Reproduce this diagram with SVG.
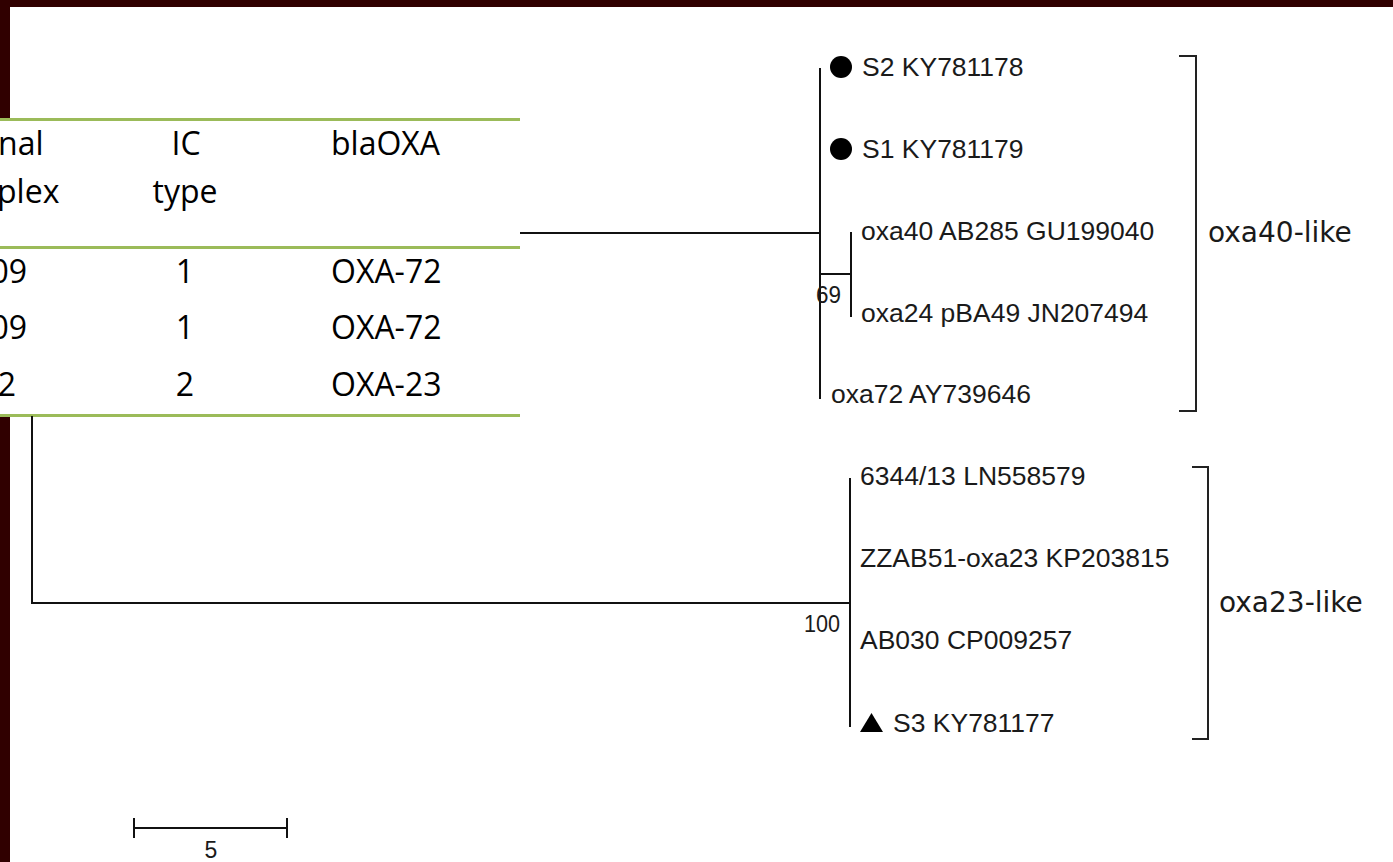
<svg xmlns="http://www.w3.org/2000/svg" width="1393" height="862" viewBox="0 0 1393 862">
  <style>
    .frame { fill: #300000; }
    .rule { stroke: #9bbb59; stroke-width: 3; fill: none; }
    .cell { font-family: "Open Sans", "Liberation Sans", sans-serif; font-size: 32px; fill: #000; }
    .branch { stroke: #111; stroke-width: 2; fill: none; stroke-linecap: square; }
    .bracket { stroke: #222; stroke-width: 2; fill: none; }
    .leaf { font-family: "Liberation Sans", Arial, sans-serif; font-size: 26.5px; fill: #1a1a1a; }
    .support { font-family: "Liberation Sans", Arial, sans-serif; font-size: 23px; fill: #1a1a1a; }
    .clade { font-family: "DejaVu Sans", Verdana, sans-serif; font-size: 28px; fill: #1a1a1a; }
    .mark { fill: #000; }
  </style>

  <!-- page background and dark frame -->
  <rect x="0" y="0" width="1393" height="862" fill="#ffffff"/>
  <rect class="frame" x="0" y="0" width="1393" height="7"/>
  <rect class="frame" x="0" y="0" width="10" height="862"/>

  <!-- summary table laid over the frame -->
  <g id="table">
    <rect x="0" y="118" width="520" height="299" fill="#ffffff"/>
    <line class="rule" x1="0" y1="119.5" x2="520" y2="119.5"/>
    <line class="rule" x1="0" y1="247.5" x2="520" y2="247.5"/>
    <line class="rule" x1="0" y1="415.5" x2="520" y2="415.5"/>
    <text class="cell" x="-2" y="155">nal</text>
    <text class="cell" x="-3" y="203">plex</text>
    <text class="cell" x="186" y="155" text-anchor="middle">IC</text>
    <text class="cell" x="185" y="203" text-anchor="middle">type</text>
    <text class="cell" x="331" y="155">blaOXA</text>
    <text class="cell" x="27" y="283" text-anchor="end">09</text>
    <text class="cell" x="185" y="283" text-anchor="middle">1</text>
    <text class="cell" x="331" y="283">OXA-72</text>
    <text class="cell" x="27" y="339" text-anchor="end">09</text>
    <text class="cell" x="185" y="339" text-anchor="middle">1</text>
    <text class="cell" x="331" y="339">OXA-72</text>
    <text class="cell" x="16" y="396" text-anchor="end">2</text>
    <text class="cell" x="185" y="396" text-anchor="middle">2</text>
    <text class="cell" x="331" y="396">OXA-23</text>
  </g>

  <!-- tree branches -->
  <g id="connectors">
    <!-- root -->
    <polyline class="branch" points="32,417 32,603 850,603"/>
    <line class="branch" x1="521" y1="233" x2="820" y2="233"/>
    <!-- oxa40-like clade -->
    <line class="branch" x1="820" y1="69" x2="820" y2="398"/>
    <line class="branch" x1="820" y1="274" x2="851" y2="274"/>
    <line class="branch" x1="851" y1="233" x2="851" y2="316"/>
    <!-- oxa23-like clade -->
    <line class="branch" x1="850" y1="479" x2="850" y2="726"/>
  </g>

  <!-- bootstrap values -->
  <g id="support">
    <text class="support" x="816" y="303" textLength="25" lengthAdjust="spacingAndGlyphs">69</text>
    <text class="support" x="804" y="632" textLength="36" lengthAdjust="spacingAndGlyphs">100</text>
  </g>

  <!-- leaves -->
  <g id="leaf-s2">
    <circle class="mark" cx="841" cy="67" r="11"/>
    <text class="leaf" x="862" y="76">S2 KY781178</text>
  </g>
  <g id="leaf-s1">
    <circle class="mark" cx="841" cy="149" r="11"/>
    <text class="leaf" x="862" y="158">S1 KY781179</text>
  </g>
  <g id="leaf-oxa40">
    <text class="leaf" x="861" y="240">oxa40 AB285 GU199040</text>
  </g>
  <g id="leaf-oxa24">
    <text class="leaf" x="861" y="322">oxa24 pBA49 JN207494</text>
  </g>
  <g id="leaf-oxa72">
    <text class="leaf" x="831" y="403">oxa72 AY739646</text>
  </g>
  <g id="leaf-6344">
    <text class="leaf" x="860" y="485">6344/13 LN558579</text>
  </g>
  <g id="leaf-zzab51">
    <text class="leaf" x="860" y="567">ZZAB51-oxa23 KP203815</text>
  </g>
  <g id="leaf-ab030">
    <text class="leaf" x="860" y="649">AB030 CP009257</text>
  </g>
  <g id="leaf-s3">
    <polygon class="mark" points="871.5,713 883,732 860,732"/>
    <text class="leaf" x="893" y="732">S3 KY781177</text>
  </g>

  <!-- clade brackets -->
  <g id="clade-oxa40">
    <polyline class="bracket" points="1179,56 1196,56 1196,411 1179,411"/>
    <text class="clade" x="1208" y="242">oxa40-like</text>
  </g>
  <g id="clade-oxa23">
    <polyline class="bracket" points="1192,467 1208,467 1208,739 1192,739"/>
    <text class="clade" x="1219" y="612">oxa23-like</text>
  </g>

  <!-- scale bar -->
  <g id="scale-bar">
    <line class="branch" x1="134" y1="828" x2="287" y2="828"/>
    <line class="branch" x1="134" y1="819" x2="134" y2="837"/>
    <line class="branch" x1="287" y1="819" x2="287" y2="837"/>
    <text class="support" x="211" y="858" text-anchor="middle">5</text>
  </g>
</svg>
